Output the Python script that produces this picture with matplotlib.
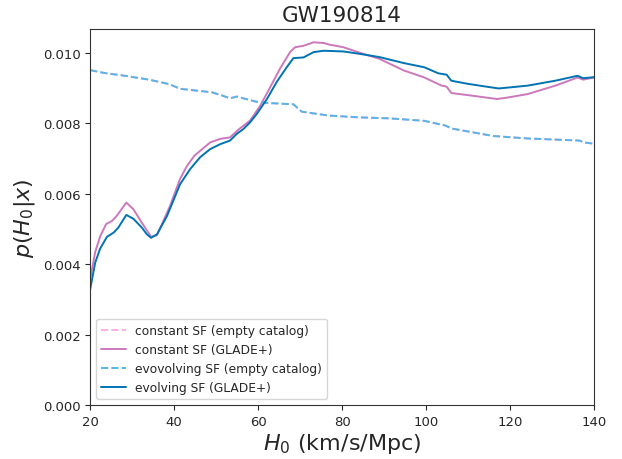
import matplotlib
matplotlib.use('Agg')
import matplotlib.pyplot as plt
import seaborn as sns

sns.set_style('ticks')

# values
h0_evol = [20, 21.2, 22.4, 24.0, 25.6, 26.7, 28.6, 30.3, 32.3, 33.5, 34.5, 35.9, 38.3, 41.4, 43.8,
           46.2, 48.6, 51.0, 53.3, 54.9, 56.5, 58.1, 59.7, 62.1, 64.4, 66.8, 68.4, 70.8, 73.2, 75.6,
           80.3, 84.3, 88.9, 94.7, 99.6, 102.9, 104.9, 106.0, 110, 114.4, 117.3, 120, 124.2, 130.8,
           136.1, 137.4, 140]
p_evol_glade = [0.00329, 0.00405, 0.00445, 0.00478, 0.0049, 0.00504, 0.0054, 0.00529, 0.00504, 0.00485,
                0.00475, 0.00485, 0.00537, 0.00627, 0.0067, 0.00704, 0.00727, 0.00741, 0.00751, 0.0077,
                0.00784, 0.00803, 0.00827, 0.00869, 0.00917, 0.00959, 0.00985, 0.00987, 0.01002, 0.01006,
                0.01004, 0.00997, 0.00988, 0.00971, 0.00959, 0.00942, 0.00938, 0.00921, 0.00912, 0.00904,
                0.00899, 0.00902, 0.00907, 0.00921, 0.00935, 0.00928, 0.00931]

h0_const = [20, 21.2, 22.4, 23.8, 25.2, 26.3, 28.6, 30.3, 32.3, 34.5, 35.9, 39.0, 41.4, 43.0, 44.8,
            48.6, 51.0, 53.3, 55.3, 58.1, 60.5, 62.9, 65.2, 67.6, 68.8, 70.8, 73.2, 75.6, 77.1, 80.3,
            84.3, 88.9, 94.7, 99.6, 103.7, 104.9, 106.0, 110, 116.9, 119.3, 124.2, 130.8, 136.1, 137.4, 140]
p_const_glade = [0.00358, 0.00435, 0.0048, 0.00514, 0.00523, 0.00537, 0.00575, 0.00556, 0.00518, 0.00478,
                 0.00482, 0.00565, 0.00642, 0.00678, 0.00708, 0.00746, 0.00756, 0.0076, 0.00782, 0.00808,
                 0.0085, 0.00903, 0.00955, 0.01002, 0.01016, 0.0102, 0.0103, 0.01028, 0.01023, 0.01016,
                 0.01, 0.00983, 0.0095, 0.0093, 0.00907, 0.00904, 0.00886, 0.0088, 0.00869, 0.00873,
                 0.00883, 0.00907, 0.0093, 0.00924, 0.0093]

h0_empty = [20, 23.3, 28.2, 34.0, 38.9, 41.4, 49.0, 51.4, 53.3, 54.9, 59.3, 61.7, 68.4, 70.4, 76.8,
            83.9, 91.4, 99.6, 104.5, 106.2, 116.0, 124.2, 136.6, 137.5, 140]
p_const_empty = [0.00951, 0.00943, 0.00935, 0.00924, 0.00911, 0.00898, 0.00888, 0.00879, 0.00871, 0.00876,
                 0.00862, 0.00858, 0.00854, 0.00833, 0.00822, 0.00817, 0.00814, 0.00807, 0.00794, 0.00785,
                 0.00764, 0.00757, 0.00751, 0.00746, 0.00742]
p_evol_empty = [0.00951, 0.00943, 0.00935, 0.00924, 0.00911, 0.00898, 0.00888, 0.00879, 0.00871, 0.00876,
                0.00862, 0.00858, 0.00854, 0.00833, 0.00822, 0.00817, 0.00814, 0.00807, 0.00794, 0.00785,
                0.00764, 0.00757, 0.00751, 0.00746, 0.00742]

fig = plt.figure(figsize=(6.22, 4.6), dpi=100)
ax = fig.add_axes([0.145, 0.117, 0.81, 0.818])

ax.plot(h0_empty, p_const_empty, ls='--', color='#fbafe4', lw=1.4, label='constant SF (empty catalog)')
ax.plot(h0_const, p_const_glade, ls='-', color='#cc78bc', lw=1.4, label='constant SF (GLADE+)')
ax.plot(h0_empty, p_evol_empty, ls='--', color='#56b4e9', lw=1.4, label='evovolving SF (empty catalog)')
ax.plot(h0_evol, p_evol_glade, ls='-', color='#0173b2', lw=1.4, label='evolving SF (GLADE+)')

ax.set_xlim(20, 140)
ax.set_ylim(0, 0.01068)
ax.set_yticks([0, 0.002, 0.004, 0.006, 0.008, 0.010])
ax.set_yticklabels(['0.000', '0.002', '0.004', '0.006', '0.008', '0.010'])
ax.tick_params(labelsize=9.5)
for s in ax.spines.values():
    s.set_color('#333333')

ax.set_title('GW190814', fontsize=15.5)
ax.set_xlabel(r'$H_0$ (km/s/Mpc)', fontsize=16, labelpad=2)
ax.set_ylabel(r'$p(H_0|x)$', fontsize=16)
ax.legend(loc='lower left', fontsize=8.8)

fig.savefig('out.png', dpi=100)
